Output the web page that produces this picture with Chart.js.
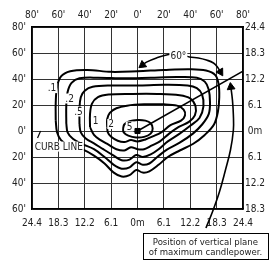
<!DOCTYPE html>
<html>
<head>
<meta charset="utf-8">
<script src="https://cdn.jsdelivr.net/npm/chart.js@4/dist/chart.umd.min.js"></script>
<style>
  html, body { margin: 0; padding: 0; background: #fff; }
</style>
</head>
<body>
<canvas id="myChart" width="272" height="270"></canvas>
<script>
const FONT = "'Liberation Sans Narrow', 'DejaVu Sans Condensed', 'Liberation Sans', sans-serif";

// tick labels: feet on top / left, metres on bottom / right
const topLabels = ["80'", "60'", "40'", "20'", "0'", "20'", "40'", "60'", "80'"];
const bottomLabels = ["24.4", "18.3", "12.2", "6.1", "0m", "6.1", "12.2", "18.3", "24.4"];
const leftLabels = ["60'", "40'", "20'", "0'", "20'", "40'", "60'", "80'"]; // bottom -> top
const rightLabels = ["18.3", "12.2", "6.1", "0m", "6.1", "12.2", "18.3", "24.4"];

// isofootcandle lines (feet)
const contourLevels = [".1", ".2", ".5", "1", "2", "5"];
const iso01 = [[-62, 8], [-62, 22], [-61, 34], [-58, 42], [-51, 46], [-38, 47], [-20, 45.5], [0, 46], [20, 47], [40, 47.5], [52, 46.5], [59, 43], [61.5, 36], [62, 26], [61, 15], [58, 5], [51, -3], [42, -10], [32, -15], [23, -20], [16, -26], [9, -31], [4, -32], [-1, -30], [-6, -34], [-12, -35], [-18, -32], [-25, -25], [-33, -19], [-42, -14], [-52, -11], [-58, -7], [-61, -1], [-62, 8]];
const iso02 = [[-54, 6], [-54, 20], [-53, 30], [-50, 37], [-44, 40.5], [-30, 41], [-10, 40.5], [10, 41], [30, 41.5], [45, 41], [51, 38], [54, 32], [55, 22], [54, 13], [49, 5], [42, -2], [32, -9], [22, -14.5], [15, -20], [9, -25], [4, -26], [-1, -24], [-6, -28], [-12, -29], [-18, -26], [-25, -20], [-33, -14], [-42, -10], [-49, -6], [-53, -1], [-54, 6]];
const iso05 = [[-44, 5], [-44, 17], [-43, 26], [-40, 31], [-34, 34], [-20, 35], [0, 35], [20, 35.5], [38, 35], [45, 33], [49, 28], [50, 19], [47, 10], [40, 4], [32, -2], [23, -8], [16, -14], [10, -18], [4, -20], [-1, -18.5], [-6, -22], [-12, -22.5], [-18, -19], [-26, -14], [-33, -9.5], [-39, -6], [-43, -1], [-44, 5]];
const iso1 = [[-36, 3], [-36, 13], [-34.5, 21], [-30, 26], [-22, 28], [-5, 28.5], [15, 28.5], [32, 27.5], [40, 25], [44, 19], [43.5, 12], [39, 7], [31, 3], [24, -2], [17, -8], [11, -11], [5, -14], [0, -14], [-5, -12.5], [-10, -15], [-16, -14], [-22, -10.5], [-28, -7], [-33, -3], [-36, 3]];
const iso2 = [[-23, 3], [-23, 9], [-21, 14], [-16, 17.5], [-8, 19.5], [5, 20.5], [20, 20.5], [30, 19.5], [35, 16.5], [36, 12], [33, 8], [25, 4.5], [18, -1], [12, -4], [6, -6.5], [0, -8], [-5, -7], [-10, -8.5], [-15, -7.5], [-20, -4.5], [-22.5, -1], [-23, 3]];
const iso5 = [[-11, 1.5], [-10, 5], [-6, 7.5], [0, 8.5], [6, 8], [10, 6], [11.5, 2], [10, -2], [5, -4.5], [-1, -5], [-7, -3.5], [-10.5, -1], [-11, 1.5]];

// other marks
const maxPlane = [[0, 0], [80, 46]];
const lampSpot = [[0, 0]];
const curbMark = [[-75.8, -5.4], [-73.5, 0]];
const angleArc = [[3.8, 50.8], [6.8, 53], [14.4, 56.2], [22, 58.5], [31, 59.5], [39.4, 56.9], [46.2, 56.2], [52.3, 54.6], [57.6, 52.3], [60.6, 49.2], [62.9, 45.4]];
const planePointer = [[70.8, 33.8], [72, 23.8], [72.7, 12.3], [72.7, 0.8], [70.5, -14.6], [66.7, -30], [62.1, -46.9], [56.8, -62.3], [51.9, -74.6]];

// where the text sits (feet)
const levelLabelAt = [[-64.8, 33], [-51.5, 25], [-44.7, 15], [-31.8, 8], [-20, 5.4], [-6, 3.5]];
const angleText = "60°";
const angleTextAt = [31, 57.7];
const curbText = "CURB LINE";
const curbTextAt = [-78, -12];
const noteLines = ["Position of vertical plane", "of maximum candlepower."];
const noteAt = [51.5, -78.5];

const toPts = (arr) => arr.map((p) => ({ x: p[0], y: p[1] }));

function contourSet(arr) {
  return {
    data: toPts(arr),
    showLine: true,
    borderColor: "#000",
    borderWidth: 2,
    pointRadius: 0,
    tension: 0.35,
  };
}

function arrowSet(arr, startRot, endRot) {
  const last = arr.length - 1;
  return {
    data: toPts(arr),
    showLine: true,
    borderColor: "#000",
    borderWidth: 1.6,
    tension: 0.4,
    clip: false,
    pointStyle: "triangle",
    pointBackgroundColor: "#000",
    pointBorderColor: "#000",
    pointBorderWidth: 1,
    pointRadius: (ctx) => (ctx.dataIndex === 0 || ctx.dataIndex === last ? 4.5 : 0),
    pointRotation: (ctx) => (ctx.dataIndex === 0 ? startRot : endRot),
  };
}

const textPlugin = {
  id: "diagramText",
  afterDatasetsDraw(chart) {
    const { ctx } = chart;
    const x = chart.scales.x;
    const y = chart.scales.y;
    ctx.save();
    ctx.font = "10px " + FONT;
    ctx.textBaseline = "middle";

    const tag = (txt, p, align) => {
      const px = x.getPixelForValue(p[0]);
      const py = y.getPixelForValue(p[1]);
      const w = ctx.measureText(txt).width;
      const left = align === "left" ? px : px - w / 2;
      ctx.fillStyle = "#fff";
      ctx.fillRect(left - 1, py - 5, w + 2, 10);
      ctx.fillStyle = "#222";
      ctx.textAlign = align;
      ctx.fillText(txt, px, py + 0.5);
    };

    contourLevels.forEach((lvl, i) => tag(lvl, levelLabelAt[i], "center"));
    tag(angleText, angleTextAt, "center");
    tag(curbText, curbTextAt, "left");
    ctx.restore();
  },
  afterDraw(chart) {
    const { ctx } = chart;
    const cx = chart.scales.x.getPixelForValue(noteAt[0]);
    const top = chart.scales.y.getPixelForValue(noteAt[1]);
    const w = 125;
    const h = 26;
    ctx.save();
    ctx.fillStyle = "#fff";
    ctx.fillRect(cx - w / 2, top, w, h);
    ctx.strokeStyle = "#000";
    ctx.lineWidth = 1;
    ctx.strokeRect(Math.round(cx - w / 2) + 0.5, Math.round(top) + 0.5, w, h);
    ctx.fillStyle = "#222";
    ctx.font = "9.5px " + FONT;
    ctx.textAlign = "center";
    ctx.textBaseline = "middle";
    ctx.fillText(noteLines[0], cx, top + 9);
    ctx.fillText(noteLines[1], cx, top + 19);
    ctx.restore();
  },
};

const gridOpts = { color: "#333", lineWidth: 1, drawTicks: false };
const noGrid = { display: false, drawTicks: false };
const border = { color: "#000", width: 1.5 };

const config = {
  type: "scatter",
  data: {
    datasets: [
      {
        data: toPts(lampSpot),
        pointStyle: "rect",
        pointRadius: 3.6,
        pointBackgroundColor: "#000",
        pointBorderColor: "#000",
      },
      {
        data: toPts(maxPlane),
        showLine: true,
        borderColor: "#000",
        borderWidth: 1.6,
        pointRadius: 0,
      },
      contourSet(iso5),
      contourSet(iso2),
      contourSet(iso1),
      contourSet(iso05),
      contourSet(iso02),
      contourSet(iso01),
      {
        data: toPts(curbMark),
        showLine: true,
        borderColor: "#000",
        borderWidth: 1.2,
        pointRadius: 0,
      },
      arrowSet(angleArc, 233, 149),
      arrowSet(planePointer, 353, 202),
    ],
  },
  options: {
    responsive: false,
    animation: false,
    layout: { padding: 0 },
    elements: { line: { capBezierPoints: false } },
    plugins: { legend: { display: false }, tooltip: { enabled: false } },
    scales: {
      x: {
        type: "linear",
        position: "bottom",
        min: -80,
        max: 80,
        ticks: {
          stepSize: 20,
          padding: 8,
          color: "#222",
          font: { family: FONT, size: 10 },
          callback: (v, i) => bottomLabels[i],
        },
        grid: gridOpts,
        border: border,
        afterFit: (s) => { s.height = 61; },
      },
      x2: {
        type: "linear",
        position: "top",
        min: -80,
        max: 80,
        ticks: {
          stepSize: 20,
          padding: 6,
          color: "#222",
          font: { family: FONT, size: 10 },
          callback: (v, i) => topLabels[i],
        },
        grid: noGrid,
        border: border,
        afterFit: (s) => { s.height = 27; },
      },
      y: {
        type: "linear",
        position: "left",
        min: -60,
        max: 80,
        ticks: {
          stepSize: 20,
          padding: 6,
          color: "#222",
          font: { family: FONT, size: 10 },
          callback: (v, i) => leftLabels[i],
        },
        grid: gridOpts,
        border: border,
        afterFit: (s) => { s.width = 32; },
      },
      y2: {
        type: "linear",
        position: "right",
        min: -60,
        max: 80,
        ticks: {
          stepSize: 20,
          padding: 2,
          crossAlign: "center",
          color: "#222",
          font: { family: FONT, size: 10 },
          callback: (v, i) => rightLabels[i],
        },
        grid: noGrid,
        border: border,
        afterFit: (s) => { s.width = 29; },
      },
    },
  },
  plugins: [textPlugin],
};

const myChart = new Chart(document.getElementById("myChart"), config);
</script>
</body>
</html>
